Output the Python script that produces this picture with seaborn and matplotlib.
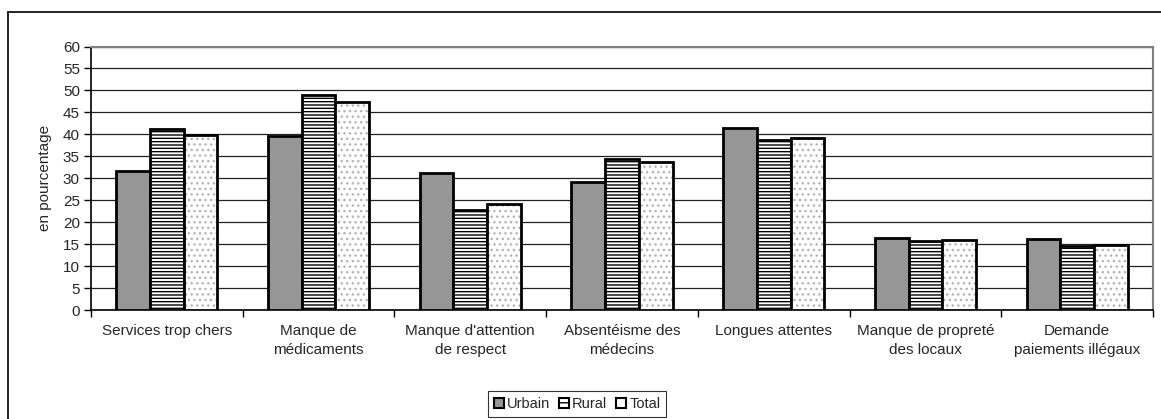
import numpy as np
import pandas as pd
import matplotlib
matplotlib.use("Agg")
import matplotlib.pyplot as plt
import seaborn as sns
from matplotlib.patches import Patch, Rectangle
from matplotlib.lines import Line2D

# Data
categories = ["Services trop chers", "Manque de\nmédicaments",
              "Manque d'attention\nde respect", "Absentéisme des\nmédecins",
              "Longues attentes", "Manque de propreté\ndes locaux",
              "Demande\npaiements illégaux"]
series = ["Urbain", "Rural", "Total"]
urbain = [31.7, 39.6, 31.1, 29.1, 41.4, 16.3, 16.2]
rural = [41.2, 49.0, 22.8, 34.4, 38.6, 15.8, 14.6]
total = [39.8, 47.4, 24.1, 33.6, 39.1, 15.9, 14.8]

df = pd.DataFrame({
    "cat": categories * 3,
    "serie": ["Urbain"] * 7 + ["Rural"] * 7 + ["Total"] * 7,
    "val": urbain + rural + total,
})

sns.set_style("white")
plt.rcParams["font.family"] = ["Liberation Sans", "DejaVu Sans"]
plt.rcParams["hatch.linewidth"] = 1.0

fig = plt.figure(figsize=(11.61, 4.19), dpi=100)
ax = fig.add_axes([0.0784, 0.2601, 0.9147, 0.6289])

sns.barplot(data=df, x="cat", y="val", hue="serie", order=categories,
            hue_order=series, width=0.667, ax=ax, legend=False,
            palette=["#969696", "white", "white"], saturation=1,
            edgecolor="black", linewidth=2, zorder=3)

# hatches: horizontal lines for Rural, grey dots for Total
for p in ax.containers[1]:
    p.set_hatch("-----")
for p in ax.containers[2]:
    p.set_edgecolor("#b4b4b4")
    p.set_linewidth(0)
    p.set_hatch("...")
    ax.add_patch(Rectangle(p.get_xy(), p.get_width(), p.get_height(),
                           fill=False, edgecolor="black", linewidth=2, zorder=4))

ax.set_ylim(0, 60)
ax.set_yticks(np.arange(0, 61, 5))
ax.set_xlim(-0.5, len(categories) - 0.5)
ax.yaxis.grid(True, color="#222222", linewidth=0.9, zorder=0)
ax.set_axisbelow(True)

ax.set_xlabel("")
ax.set_ylabel("en pourcentage", fontsize=11)
ax.yaxis.set_label_coords(-0.0367, 0.5)

ax.tick_params(axis="y", labelsize=11, length=5, width=1, color="black",
               left=True, direction="out", pad=3)
ax.tick_params(axis="x", which="major", labelsize=11, length=0, pad=10)
for lbl in ax.get_xticklabels():
    lbl.set_linespacing(1.45)
ax.set_xticks(np.arange(-0.5, len(categories), 1), minor=True)
ax.tick_params(axis="x", which="minor", length=5, width=1, color="black",
               bottom=True, direction="out")

for s in ["left", "bottom"]:
    ax.spines[s].set_color("black")
    ax.spines[s].set_linewidth(1.2)
for s in ["top", "right"]:
    ax.spines[s].set_visible(True)
    ax.spines[s].set_color("#808080")
    ax.spines[s].set_linewidth(1.5)

# legend
handles = [
    Patch(facecolor="#969696", edgecolor="black", linewidth=1.5),
    Patch(facecolor="white", edgecolor="black", linewidth=1.5, hatch="---"),
    Patch(facecolor="white", edgecolor="black", linewidth=1.5),
]
leg = fig.legend(handles, series, loc="lower center", ncol=3,
                 bbox_to_anchor=(0.497, -0.012), frameon=True, fancybox=False,
                 fontsize=10.5, handlelength=0.7, handleheight=0.7,
                 handletextpad=0.2, columnspacing=0.6, borderpad=0.4)
leg.get_frame().set_edgecolor("black")
leg.get_frame().set_linewidth(0.8)

# outer chart frame
fig.add_artist(Line2D([8 / 1161, 1], [1 - 12 / 419, 1 - 12 / 419],
                      color="black", linewidth=1.2, transform=fig.transFigure))
fig.add_artist(Line2D([8 / 1161, 8 / 1161], [0, 1 - 12 / 419],
                      color="black", linewidth=1.2, transform=fig.transFigure))

fig.savefig("out.png", dpi=100)
